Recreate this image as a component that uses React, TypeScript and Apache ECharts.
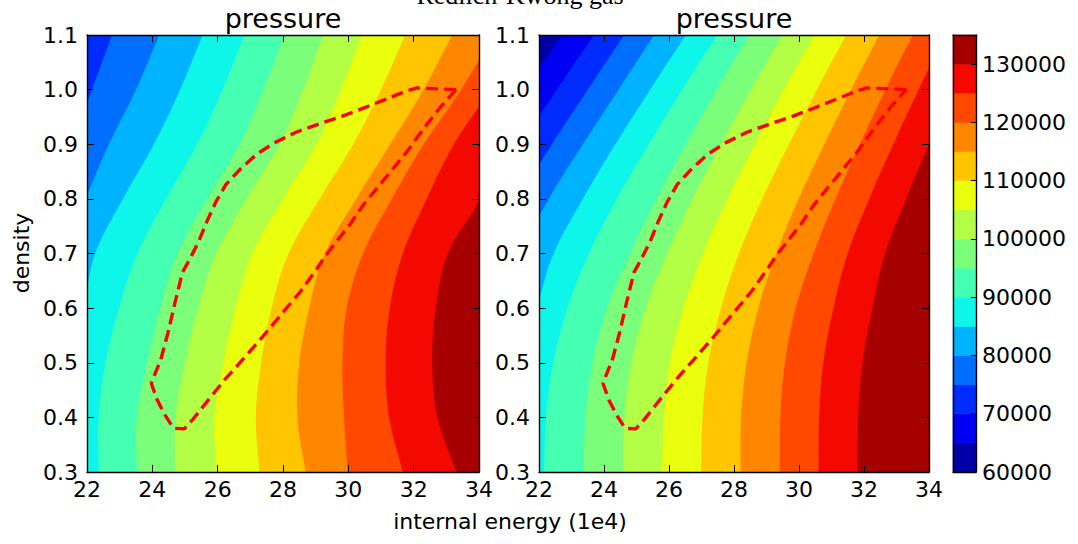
import React, { useEffect, useRef } from "react";
import * as echarts from "echarts";

// ---------------- data ----------------
const densityRows = [0.3, 0.4, 0.5, 0.6, 0.7, 0.8, 0.9, 1.0, 1.1];

const pressureLevels = [
  60000, 65000, 70000, 75000, 80000, 85000, 90000, 95000, 100000, 105000,
  110000, 115000, 120000, 125000, 130000, 135000,
];

const bandColors = [
  "#0000a6", "#0000f3", "#002bff", "#006eff", "#00b3ff", "#0ef6e9", "#45ffb2",
  "#7bff7b", "#b2ff45", "#e9ff0e", "#ffc600", "#ff8700", "#ff4800", "#f30900",
  "#a60000",
];

// left panel: energy (1e4) where each contour level crosses the density rows
const leftBaseLevel = 70000;
const leftBoundaryLevels = [
  75000, 80000, 85000, 90000, 95000, 100000, 105000, 110000, 115000, 120000,
  125000, 130000,
];
const leftBoundaryEnergy = [
  [19.5, 19.5, 19.7, 20.0, 20.5, 21.0, 21.5, 22.15, 22.77],
  [20.4, 20.3, 20.4, 20.7, 21.2, 21.95, 22.67, 23.5, 24.21],
  [21.3, 21.3, 21.5, 21.9, 22.25, 23.1, 24.05, 24.85, 25.54],
  [22.36, 22.36, 22.57, 22.98, 23.55, 24.42, 25.38, 26.15, 26.82],
  [23.52, 23.52, 23.84, 24.24, 24.78, 25.68, 26.67, 27.4, 28.05],
  [24.69, 24.71, 25.0, 25.4, 25.96, 26.88, 27.9, 28.62, 29.23],
  [25.96, 25.9, 26.17, 26.55, 27.06, 28.0, 29.03, 29.78, 30.41],
  [27.28, 27.17, 27.33, 27.65, 28.17, 29.12, 30.15, 31.0, 31.74],
  [28.69, 28.44, 28.5, 28.8, 29.28, 30.24, 31.28, 32.3, 33.18],
  [29.98, 29.87, 29.82, 29.95, 30.45, 31.33, 32.31, 33.45, 34.45],
  [31.67, 31.25, 31.14, 31.27, 31.67, 32.4, 33.23, 34.35, 35.3],
  [33.31, 32.73, 32.57, 32.68, 33.05, 34.03, 34.6, 35.5, 36.4],
];

// right panel
const rightBaseLevel = 60000;
const rightBoundaryLevels = [
  65000, 70000, 75000, 80000, 85000, 90000, 95000, 100000, 105000, 110000,
  115000, 120000, 125000, 130000,
];
const rightBoundaryEnergy = [
  [18.2, 18.2, 18.3, 18.6, 19.0, 19.7, 20.5, 21.55, 22.72],
  [18.9, 18.95, 19.1, 19.4, 19.9, 20.6, 21.45, 22.55, 23.69],
  [19.8, 19.85, 20.0, 20.3, 20.8, 21.4, 22.4, 23.5, 24.62],
  [20.5, 20.55, 20.7, 21.0, 21.45, 22.3, 23.35, 24.45, 25.54],
  [21.35, 21.4, 21.6, 21.95, 22.45, 23.35, 24.35, 25.42, 26.52],
  [22.16, 22.22, 22.44, 22.88, 23.54, 24.4, 25.38, 26.41, 27.49],
  [23.37, 23.43, 23.65, 24.09, 24.8, 25.62, 26.52, 27.47, 28.47],
  [24.58, 24.63, 24.85, 25.29, 25.95, 26.73, 27.6, 28.52, 29.49],
  [25.79, 25.84, 26.03, 26.45, 27.05, 27.8, 28.64, 29.53, 30.47],
  [26.99, 27.03, 27.21, 27.6, 28.15, 28.87, 29.69, 30.55, 31.45],
  [28.2, 28.22, 28.39, 28.75, 29.3, 29.99, 30.78, 31.6, 32.47],
  [29.41, 29.43, 29.57, 29.9, 30.45, 31.12, 31.87, 32.66, 33.5],
  [30.6, 30.62, 30.75, 31.06, 31.5, 32.16, 32.9, 33.68, 34.5],
  [31.8, 31.82, 31.96, 32.26, 32.65, 33.3, 34.0, 34.75, 35.55],
];

// red dashed closed curve (same in both panels)
const loopEnergy = [
  33.3, 32.1, 31.8, 31.3, 30.5, 29.8, 29.1, 28.4, 27.75, 27.2, 26.7, 26.25,
  25.95, 25.68, 25.42, 25.15, 24.92, 24.69, 24.48, 24.26, 24.05, 23.97, 24.15,
  24.38, 24.65, 24.98, 25.25, 25.73, 26.23, 26.77, 27.38, 27.98, 28.53, 29.05,
  29.25, 29.64, 30.05, 30.46, 30.87, 31.38, 31.79, 32.31, 32.82, 33.3,
];
const loopDensity = [
  1.0, 1.003, 0.998, 0.986, 0.967, 0.951, 0.937, 0.922, 0.903, 0.882, 0.855,
  0.826, 0.795, 0.76, 0.722, 0.69, 0.665, 0.609, 0.555, 0.506, 0.475, 0.462,
  0.432, 0.405, 0.38, 0.379, 0.397, 0.433, 0.47, 0.506, 0.548, 0.591, 0.63,
  0.673, 0.692, 0.722, 0.753, 0.789, 0.819, 0.856, 0.886, 0.929, 0.968, 1.0,
];

const colorbarTickStep = 10000;

// ---------------- helpers ----------------
const FONT = "'DejaVu Sans', sans-serif";

function colorForLevel(level: number) {
  return bandColors[pressureLevels.indexOf(level)];
}

function contourRenderer(baseLevel: number, lvls: number[], energies: number[][]) {
  return (params: any, api: any) => {
    const cs = params.coordSys;
    const i = params.dataIndex;
    if (i === 0) {
      return {
        type: "rect",
        shape: { x: cs.x - 2, y: cs.y - 2, width: cs.width + 4, height: cs.height + 4 },
        style: { fill: colorForLevel(baseLevel) },
      };
    }
    const xs = energies[i - 1];
    const pts = densityRows.map((d, k) => api.coord([xs[k], d]));
    const n = pts.length;
    const top = [2 * pts[n - 1][0] - pts[n - 2][0], 2 * pts[n - 1][1] - pts[n - 2][1]];
    const bot = [2 * pts[0][0] - pts[1][0], 2 * pts[0][1] - pts[1][1]];
    const far = cs.x + cs.width + 600;
    const poly = [bot, ...pts, top, [far, top[1] - 40], [far, bot[1] + 40]];
    const c = colorForLevel(lvls[i - 1]);
    return {
      type: "polygon",
      shape: { points: poly, smooth: 0.36 },
      style: { fill: c },
    };
  };
}

function colorbarRenderer(params: any, api: any) {
  const i = params.dataIndex;
  const p0 = api.coord([0, pressureLevels[i + 1]]);
  const p1 = api.coord([1, pressureLevels[i]]);
  return {
    type: "rect",
    shape: { x: p0[0], y: p0[1], width: p1[0] - p0[0], height: p1[1] - p0[1] },
    style: { fill: bandColors[i], stroke: bandColors[i], lineWidth: 0.6 },
  };
}

const axisLine = { show: true, onZero: false, lineStyle: { color: "#000", width: 1.4 } };
const tickStyle = { show: true, inside: true, length: 7, lineStyle: { color: "#000", width: 1 } };
const labelStyle = { color: "#000", fontSize: 22, fontFamily: FONT };

function energyAxes(gridIndex: number) {
  return [
    {
      gridIndex, type: "value", min: 22, max: 34, interval: 2, position: "bottom",
      axisLine, axisTick: tickStyle, splitLine: { show: false }, z: 10,
      axisLabel: { ...labelStyle, margin: 6, formatter: (v: number) => String(Math.round(v)) },
    },
    {
      gridIndex, type: "value", min: 22, max: 34, interval: 2, position: "top",
      axisLine, axisTick: tickStyle, splitLine: { show: false }, axisLabel: { show: false }, z: 10,
    },
  ];
}

function densityAxes(gridIndex: number) {
  return [
    {
      gridIndex, type: "value", min: 0.3, max: 1.1, interval: 0.1, position: "left",
      axisLine, axisTick: tickStyle, splitLine: { show: false }, z: 10,
      axisLabel: { ...labelStyle, margin: 9, formatter: (v: number) => v.toFixed(1) },
    },
    {
      gridIndex, type: "value", min: 0.3, max: 1.1, interval: 0.1, position: "right",
      axisLine, axisTick: tickStyle, splitLine: { show: false }, axisLabel: { show: false }, z: 10,
    },
  ];
}

const loopData = loopEnergy.map((e, i) => [e, loopDensity[i]]);

function buildOption() {
  return {
    animation: false,
    backgroundColor: "#ffffff",
    grid: [
      { left: 87, top: 35, width: 392, height: 437 },
      { left: 539, top: 35, width: 390, height: 437 },
      { left: 953, top: 35, width: 23, height: 437 },
    ],
    xAxis: [
      ...energyAxes(0),
      ...energyAxes(1),
      {
        gridIndex: 2, type: "value", min: 0, max: 1, position: "bottom",
        axisLine, axisTick: { show: false }, axisLabel: { show: false }, splitLine: { show: false }, z: 10,
      },
      {
        gridIndex: 2, type: "value", min: 0, max: 1, position: "top",
        axisLine, axisTick: { show: false }, axisLabel: { show: false }, splitLine: { show: false }, z: 10,
      },
    ],
    yAxis: [
      ...densityAxes(0),
      ...densityAxes(1),
      {
        gridIndex: 2, type: "value", min: 60000, max: 135000, interval: colorbarTickStep, position: "left",
        axisLine, axisTick: { show: false }, axisLabel: { show: false }, splitLine: { show: false }, z: 10,
      },
      {
        gridIndex: 2, type: "value", min: 60000, max: 135000, interval: colorbarTickStep, position: "right",
        axisLine, axisTick: { show: true, inside: true, length: 5, lineStyle: { color: "#000", width: 1 } },
        splitLine: { show: false }, z: 10,
        axisLabel: { ...labelStyle, margin: 6, showMaxLabel: false, formatter: (v: number) => (v >= 135000 ? "" : String(v)) },
      },
    ],
    series: [
      {
        type: "custom", xAxisIndex: 0, yAxisIndex: 0, clip: true, silent: true, z: 1,
        renderItem: contourRenderer(leftBaseLevel, leftBoundaryLevels, leftBoundaryEnergy),
        data: [leftBaseLevel, ...leftBoundaryLevels].map((_, i) => [i]),
      },
      {
        type: "custom", xAxisIndex: 2, yAxisIndex: 2, clip: true, silent: true, z: 1,
        renderItem: contourRenderer(rightBaseLevel, rightBoundaryLevels, rightBoundaryEnergy),
        data: [rightBaseLevel, ...rightBoundaryLevels].map((_, i) => [i]),
      },
      {
        type: "custom", xAxisIndex: 4, yAxisIndex: 4, silent: true, z: 1,
        renderItem: colorbarRenderer,
        data: bandColors.map((_, i) => [i]),
      },
      {
        type: "line", xAxisIndex: 0, yAxisIndex: 0, data: loopData, showSymbol: false, symbol: "none",
        silent: true, z: 5, lineStyle: { color: "#ff0000", width: 3.4, type: [12, 6] },
      },
      {
        type: "line", xAxisIndex: 2, yAxisIndex: 2, data: loopData, showSymbol: false, symbol: "none",
        silent: true, z: 5, lineStyle: { color: "#ff0000", width: 3.4, type: [12, 6] },
      },
    ],
    graphic: [
      {
        type: "text", x: 520, y: -5, silent: true,
        style: { text: "Redlich-Kwong gas", fontSize: 26, fontFamily: "'Liberation Serif', serif", fill: "#000", align: "center", verticalAlign: "middle" },
      },
      {
        type: "text", x: 283, y: 18, silent: true,
        style: { text: "pressure", fontSize: 27, fontFamily: FONT, fill: "#000", align: "center", verticalAlign: "middle" },
      },
      {
        type: "text", x: 734, y: 18, silent: true,
        style: { text: "pressure", fontSize: 27, fontFamily: FONT, fill: "#000", align: "center", verticalAlign: "middle" },
      },
      {
        type: "text", x: 510, y: 521, silent: true,
        style: { text: "internal energy (1e4)", fontSize: 22, fontFamily: FONT, fill: "#000", align: "center", verticalAlign: "middle" },
      },
      {
        type: "text", x: 21, y: 253, rotation: Math.PI / 2, silent: true,
        style: { text: "density", fontSize: 22, fontFamily: FONT, fill: "#000", align: "center", verticalAlign: "middle" },
      },
    ],
  };
}

export default function App() {
  const ref = useRef<HTMLDivElement | null>(null);
  useEffect(() => {
    if (!ref.current) return;
    const chart = echarts.init(ref.current, undefined, { renderer: "svg" });
    chart.setOption(buildOption() as any);
    return () => chart.dispose();
  }, []);
  return (
    <div
      ref={ref}
      style={{ position: "absolute", left: 0, top: 0, width: 1078, height: 544, background: "#fff" }}
    />
  );
}
